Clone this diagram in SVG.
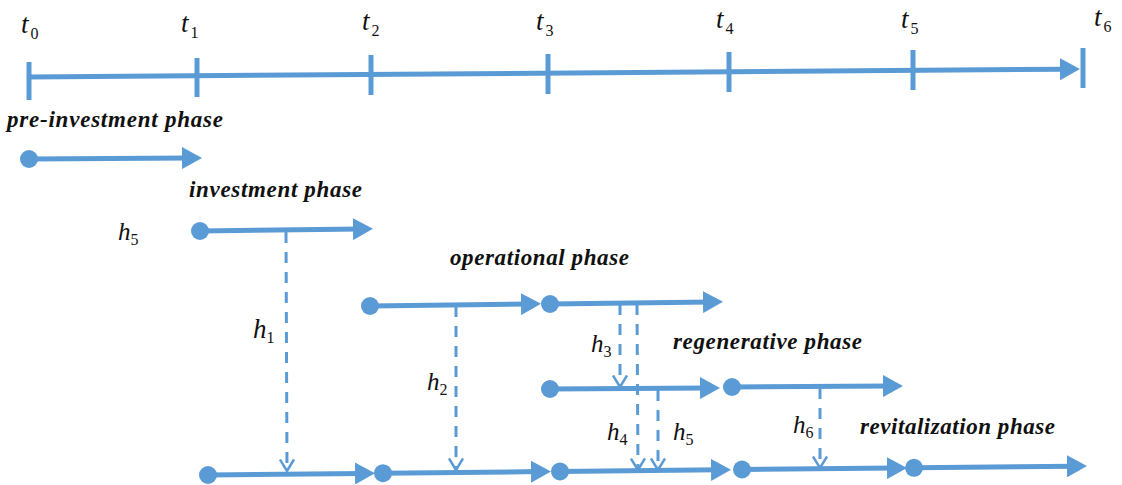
<svg xmlns="http://www.w3.org/2000/svg" width="1122" height="485" viewBox="0 0 1122 485">
<style>
.ln{stroke:#5B9BD5;stroke-width:5;fill:none}
.tk{stroke:#5B9BD5;stroke-width:5;fill:none}
.ds{stroke:#5B9BD5;stroke-width:3;fill:none;stroke-dasharray:11 9}
.dot{fill:#5B9BD5}
.ph{font-family:"Liberation Serif",serif;font-weight:bold;font-style:italic;font-size:23px;fill:#111}
.var{font-family:"Liberation Serif",serif;font-style:italic;font-size:25px;fill:#111}
.tv{font-size:27px}
.sub{font-style:normal;font-size:16px}
</style>
<defs>
<marker id="ah" viewBox="0 0 20 22" refX="8" refY="11" markerWidth="20" markerHeight="22" orient="auto" markerUnits="userSpaceOnUse">
<path d="M0,0 L20,11 L0,22 Z" fill="#5B9BD5"/>
</marker>
<marker id="va" viewBox="0 0 14 16" refX="12.5" refY="8" markerWidth="14" markerHeight="16" orient="auto" markerUnits="userSpaceOnUse">
<path d="M1,1 L12.5,8 L1,15" fill="none" stroke="#5B9BD5" stroke-width="2.5"/>
</marker>
</defs>

<g id="timeline">
<line class="ln" x1="29" y1="77" x2="1068" y2="69.2" marker-end="url(#ah)"/>
<line class="tk" x1="29" y1="62" x2="29" y2="100"/>
<line class="tk" x1="197" y1="58" x2="197" y2="97"/>
<line class="tk" x1="371" y1="55" x2="371" y2="95"/>
<line class="tk" x1="548" y1="54" x2="548" y2="94"/>
<line class="tk" x1="729" y1="52" x2="729" y2="92"/>
<line class="tk" x1="913" y1="50" x2="913" y2="90"/>
<line class="tk" x1="1083" y1="48" x2="1083" y2="88"/>
<text class="var tv" x="21" y="33">t<tspan class="sub" dy="6" dx="2">0</tspan></text>
<text class="var tv" x="181" y="32">t<tspan class="sub" dy="6" dx="2">1</tspan></text>
<text class="var tv" x="362" y="30">t<tspan class="sub" dy="6" dx="2">2</tspan></text>
<text class="var tv" x="536" y="30">t<tspan class="sub" dy="6" dx="2">3</tspan></text>
<text class="var tv" x="716" y="28">t<tspan class="sub" dy="6" dx="2">4</tspan></text>
<text class="var tv" x="901" y="28">t<tspan class="sub" dy="6" dx="2">5</tspan></text>
<text class="var tv" x="1094" y="26">t<tspan class="sub" dy="6" dx="2">6</tspan></text>
</g>

<g id="pre-investment">
<text class="ph" x="7" y="127" textLength="216">pre-investment phase</text>
<circle class="dot" cx="29" cy="159" r="9"/>
<line class="ln" x1="29" y1="159" x2="190" y2="158" marker-end="url(#ah)"/>
</g>

<g id="investment">
<text class="ph" x="189" y="197" textLength="173">investment phase</text>
<text class="var" x="118" y="240">h<tspan class="sub" dy="5">5</tspan></text>
<circle class="dot" cx="200" cy="231" r="9"/>
<line class="ln" x1="200" y1="231" x2="361" y2="229" marker-end="url(#ah)"/>
</g>

<g id="operational">
<text class="ph" x="450" y="265" textLength="179">operational phase</text>
<circle class="dot" cx="370" cy="306" r="9"/>
<line class="ln" x1="370" y1="306" x2="529" y2="304" marker-end="url(#ah)"/>
<circle class="dot" cx="550" cy="304" r="9"/>
<line class="ln" x1="550" y1="304" x2="711" y2="302" marker-end="url(#ah)"/>
</g>

<g id="regenerative">
<text class="ph" x="673" y="349" textLength="189">regenerative phase</text>
<circle class="dot" cx="550" cy="389" r="9"/>
<line class="ln" x1="550" y1="389" x2="708" y2="388" marker-end="url(#ah)"/>
<circle class="dot" cx="732" cy="387" r="9"/>
<line class="ln" x1="732" y1="387" x2="891" y2="386" marker-end="url(#ah)"/>
</g>

<g id="revitalization">
<text class="ph" x="860" y="434" textLength="195">revitalization phase</text>
<circle class="dot" cx="208" cy="475" r="9"/>
<line class="ln" x1="208" y1="475" x2="363" y2="473.4" marker-end="url(#ah)"/>
<circle class="dot" cx="383" cy="473.2" r="9"/>
<line class="ln" x1="383" y1="473.2" x2="539" y2="471.6" marker-end="url(#ah)"/>
<circle class="dot" cx="560" cy="471.4" r="9"/>
<line class="ln" x1="560" y1="471.4" x2="719" y2="469.8" marker-end="url(#ah)"/>
<circle class="dot" cx="742" cy="469.5" r="9"/>
<line class="ln" x1="742" y1="469.5" x2="895" y2="468" marker-end="url(#ah)"/>
<circle class="dot" cx="914" cy="467.8" r="9"/>
<line class="ln" x1="914" y1="467.8" x2="1075" y2="466.2" marker-end="url(#ah)"/>
</g>

<g id="connectors">
<line class="ds" x1="286" y1="232" x2="287" y2="471" marker-end="url(#va)"/>
<line class="ds" x1="456" y1="306" x2="456" y2="470" marker-end="url(#va)"/>
<line class="ds" x1="620" y1="304" x2="620" y2="387" marker-end="url(#va)"/>
<line class="ds" x1="637" y1="304" x2="638" y2="470" marker-end="url(#va)"/>
<line class="ds" x1="658" y1="390" x2="658" y2="470" marker-end="url(#va)"/>
<line class="ds" x1="820" y1="388" x2="820" y2="468" marker-end="url(#va)"/>
<text class="var" x="253" y="338" style="font-size:27px">h<tspan class="sub" dy="5">1</tspan></text>
<text class="var" x="427" y="390">h<tspan class="sub" dy="5">2</tspan></text>
<text class="var" x="591" y="352">h<tspan class="sub" dy="5">3</tspan></text>
<text class="var" x="607" y="440">h<tspan class="sub" dy="5">4</tspan></text>
<text class="var" x="673" y="440">h<tspan class="sub" dy="5">5</tspan></text>
<text class="var" x="793" y="433">h<tspan class="sub" dy="5">6</tspan></text>
</g>
</svg>
